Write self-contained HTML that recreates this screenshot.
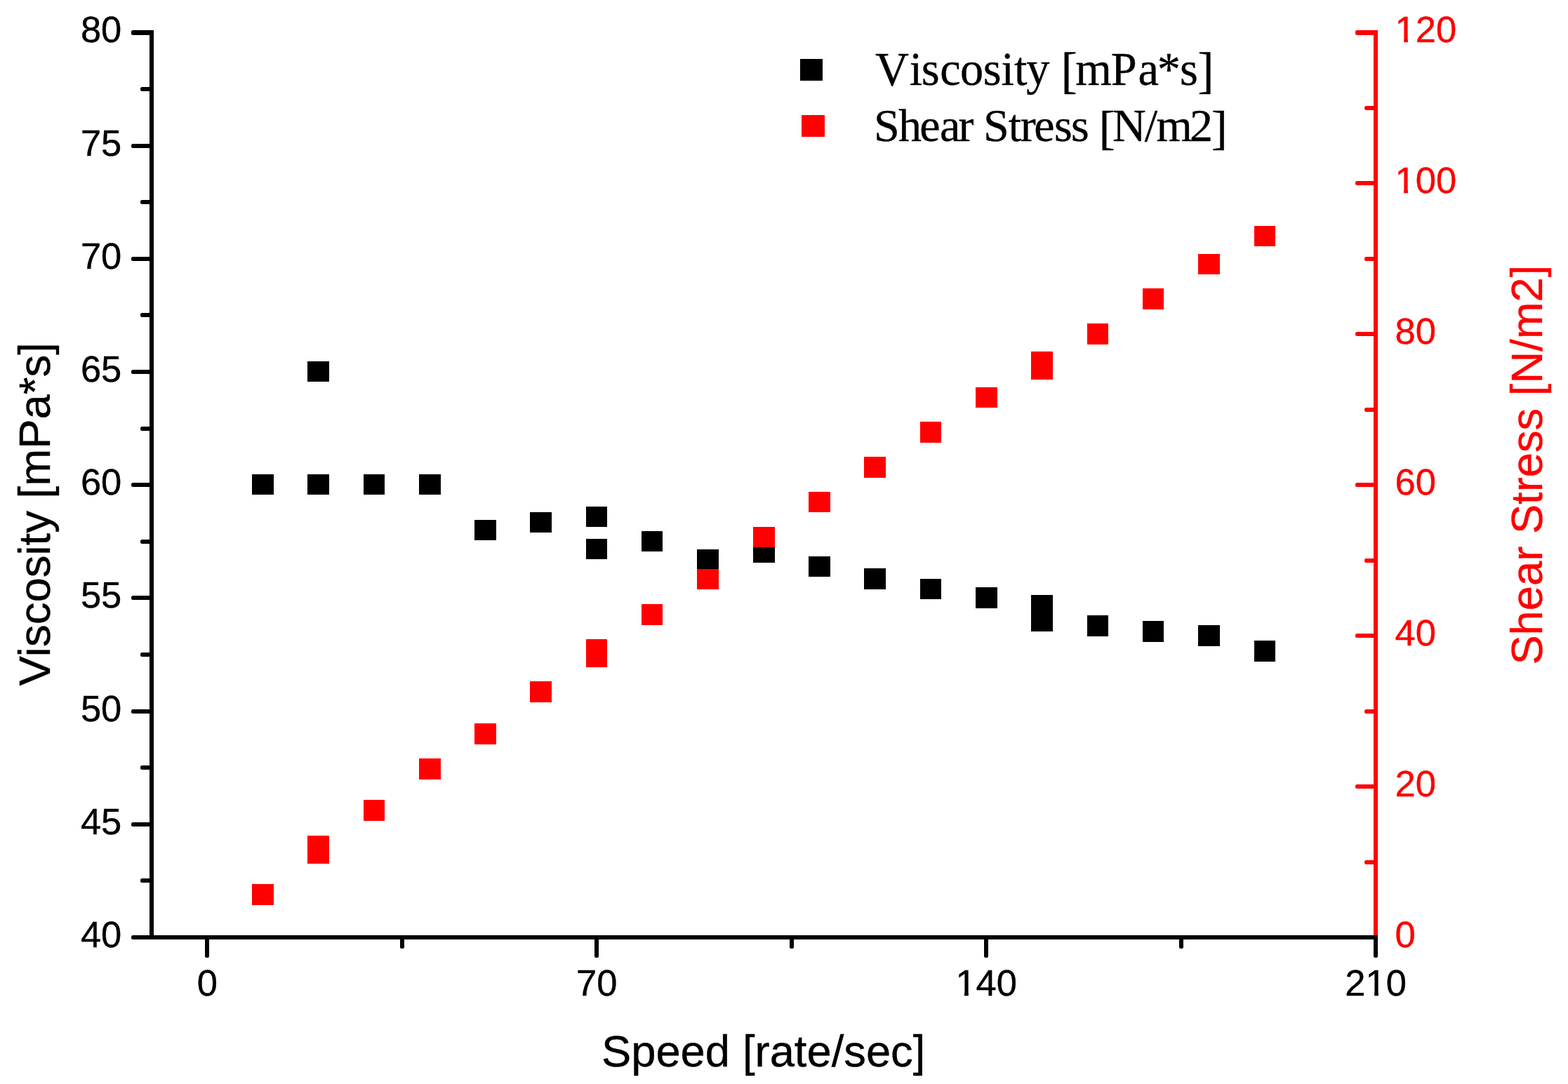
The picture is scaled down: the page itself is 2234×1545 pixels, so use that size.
<!DOCTYPE html><html><head><meta charset="utf-8"><title>Viscosity and Shear Stress vs Speed</title>
<style>html,body{margin:0;padding:0;background:#fff;}body{width:2234px;height:1545px;overflow:hidden;}svg{display:block;}.sans{font-family:"Liberation Sans",Arial,sans-serif;}.serif{font-family:"Liberation Serif","Times New Roman",serif;}</style></head><body>
<svg width="2234" height="1545" viewBox="0 0 2234 1545">
<rect x="0" y="0" width="2234" height="1545" fill="#fff"/>
<g fill="#000" shape-rendering="crispEdges">
<rect x="359" y="676" width="31" height="29"/>
<rect x="438" y="676" width="31" height="29"/>
<rect x="438" y="515" width="31" height="29"/>
<rect x="518" y="676" width="30" height="29"/>
<rect x="597" y="676" width="31" height="29"/>
<rect x="676" y="741" width="31" height="29"/>
<rect x="755" y="730" width="31" height="29"/>
<rect x="835" y="722" width="30" height="29"/>
<rect x="835" y="768" width="30" height="29"/>
<rect x="914" y="757" width="30" height="29"/>
<rect x="993" y="783" width="31" height="29"/>
<rect x="1073" y="773" width="31" height="29"/>
<rect x="1152" y="793" width="31" height="29"/>
<rect x="1231" y="810" width="31" height="30"/>
<rect x="1311" y="825" width="30" height="29"/>
<rect x="1390" y="837" width="31" height="30"/>
<rect x="1469" y="848" width="31" height="29"/>
<rect x="1469" y="871" width="31" height="29"/>
<rect x="1549" y="877" width="30" height="30"/>
<rect x="1628" y="885" width="30" height="30"/>
<rect x="1707" y="891" width="31" height="30"/>
<rect x="1787" y="913" width="30" height="30"/>
</g>
<g fill="#f00" shape-rendering="crispEdges">
<rect x="359" y="1260" width="31" height="30"/>
<rect x="438" y="1191" width="31" height="29"/>
<rect x="438" y="1201" width="31" height="30"/>
<rect x="518" y="1140" width="30" height="30"/>
<rect x="597" y="1081" width="31" height="30"/>
<rect x="676" y="1031" width="31" height="30"/>
<rect x="755" y="971" width="31" height="30"/>
<rect x="835" y="911" width="30" height="29"/>
<rect x="835" y="922" width="30" height="29"/>
<rect x="914" y="861" width="30" height="30"/>
<rect x="993" y="811" width="31" height="29"/>
<rect x="1073" y="751" width="31" height="29"/>
<rect x="1152" y="701" width="31" height="29"/>
<rect x="1231" y="651" width="31" height="30"/>
<rect x="1311" y="601" width="30" height="30"/>
<rect x="1390" y="552" width="31" height="29"/>
<rect x="1469" y="501" width="31" height="29"/>
<rect x="1469" y="512" width="31" height="29"/>
<rect x="1549" y="461" width="30" height="30"/>
<rect x="1628" y="411" width="30" height="30"/>
<rect x="1707" y="362" width="31" height="29"/>
<rect x="1787" y="322" width="30" height="29"/>
</g>
<g shape-rendering="crispEdges">
<rect x="1957" y="43" width="6" height="1290" fill="#f00"/>
<rect x="1944" y="1226" width="16" height="6" rx="2.5" fill="#f00" shape-rendering="auto"/>
<rect x="1931" y="1118" width="29" height="6" rx="2.5" fill="#f00" shape-rendering="auto"/>
<rect x="1944" y="1011" width="16" height="6" rx="2.5" fill="#f00" shape-rendering="auto"/>
<rect x="1931" y="903" width="29" height="6" rx="2.5" fill="#f00" shape-rendering="auto"/>
<rect x="1944" y="796" width="16" height="6" rx="2.5" fill="#f00" shape-rendering="auto"/>
<rect x="1931" y="688" width="29" height="6" rx="2.5" fill="#f00" shape-rendering="auto"/>
<rect x="1944" y="581" width="16" height="6" rx="2.5" fill="#f00" shape-rendering="auto"/>
<rect x="1931" y="473" width="29" height="6" rx="2.5" fill="#f00" shape-rendering="auto"/>
<rect x="1944" y="366" width="16" height="6" rx="2.5" fill="#f00" shape-rendering="auto"/>
<rect x="1931" y="258" width="29" height="6" rx="2.5" fill="#f00" shape-rendering="auto"/>
<rect x="1944" y="151" width="16" height="6" rx="2.5" fill="#f00" shape-rendering="auto"/>
<rect x="1931" y="43" width="29" height="7" rx="2.5" fill="#f00" shape-rendering="auto"/>
<rect x="213" y="43" width="6" height="1296" fill="#000"/>
<rect x="187" y="1333" width="29" height="6" rx="2.5" fill="#000" shape-rendering="auto"/>
<rect x="200" y="1252" width="16" height="6" rx="2.5" fill="#000" shape-rendering="auto"/>
<rect x="187" y="1172" width="29" height="6" rx="2.5" fill="#000" shape-rendering="auto"/>
<rect x="200" y="1091" width="16" height="6" rx="2.5" fill="#000" shape-rendering="auto"/>
<rect x="187" y="1011" width="29" height="6" rx="2.5" fill="#000" shape-rendering="auto"/>
<rect x="200" y="930" width="16" height="6" rx="2.5" fill="#000" shape-rendering="auto"/>
<rect x="187" y="849" width="29" height="6" rx="2.5" fill="#000" shape-rendering="auto"/>
<rect x="200" y="769" width="16" height="6" rx="2.5" fill="#000" shape-rendering="auto"/>
<rect x="187" y="688" width="29" height="6" rx="2.5" fill="#000" shape-rendering="auto"/>
<rect x="200" y="608" width="16" height="6" rx="2.5" fill="#000" shape-rendering="auto"/>
<rect x="187" y="527" width="29" height="6" rx="2.5" fill="#000" shape-rendering="auto"/>
<rect x="200" y="446" width="16" height="6" rx="2.5" fill="#000" shape-rendering="auto"/>
<rect x="187" y="366" width="29" height="6" rx="2.5" fill="#000" shape-rendering="auto"/>
<rect x="200" y="285" width="16" height="6" rx="2.5" fill="#000" shape-rendering="auto"/>
<rect x="187" y="205" width="29" height="6" rx="2.5" fill="#000" shape-rendering="auto"/>
<rect x="200" y="124" width="16" height="6" rx="2.5" fill="#000" shape-rendering="auto"/>
<rect x="187" y="43" width="29" height="7" rx="2.5" fill="#000" shape-rendering="auto"/>
<rect x="213" y="1333" width="1750" height="6" fill="#000"/>
<rect x="292" y="1336" width="6" height="29" rx="2.5" fill="#000" shape-rendering="auto"/>
<rect x="570" y="1336" width="6" height="16" rx="2.5" fill="#000" shape-rendering="auto"/>
<rect x="847" y="1336" width="6" height="29" rx="2.5" fill="#000" shape-rendering="auto"/>
<rect x="1125" y="1336" width="6" height="16" rx="2.5" fill="#000" shape-rendering="auto"/>
<rect x="1402" y="1336" width="6" height="29" rx="2.5" fill="#000" shape-rendering="auto"/>
<rect x="1680" y="1336" width="6" height="16" rx="2.5" fill="#000" shape-rendering="auto"/>
<rect x="1957" y="1336" width="6" height="29" rx="2.5" fill="#000" shape-rendering="auto"/>
</g>
<g class="sans" font-size="52.5" fill="#000" stroke="#000" stroke-width="0.4">
<text x="173.3" y="1349.9" text-anchor="end">40</text>
<text x="173.3" y="1188.7" text-anchor="end">45</text>
<text x="173.3" y="1027.5" text-anchor="end">50</text>
<text x="173.3" y="866.3" text-anchor="end">55</text>
<text x="173.3" y="705.1" text-anchor="end">60</text>
<text x="173.3" y="544.0" text-anchor="end">65</text>
<text x="173.3" y="382.8" text-anchor="end">70</text>
<text x="173.3" y="221.6" text-anchor="end">75</text>
<text x="173.3" y="60.4" text-anchor="end">80</text>
<text x="295.4" y="1418.9" text-anchor="middle">0</text>
<text x="850.3" y="1418.9" text-anchor="middle">70</text>
<text x="1405.2" y="1418.9" text-anchor="middle">140</text>
<text x="1960.1" y="1418.9" text-anchor="middle">210</text>
</g>
<g class="sans" font-size="52.5" fill="#f00" stroke="#f00" stroke-width="0.4">
<text x="1987.5" y="1349.9">0</text>
<text x="1987.5" y="1135.0">20</text>
<text x="1987.5" y="920.1">40</text>
<text x="1987.5" y="705.1">60</text>
<text x="1987.5" y="490.2">80</text>
<text x="1987.5" y="275.3">100</text>
<text x="1987.5" y="60.4">120</text>
</g>
<g fill="#fff">
<rect x="1364.20" y="1414.16" width="9.79" height="6.54"/>
<rect x="1379.81" y="1414.16" width="9.38" height="6.54"/>
<rect x="1948.29" y="1414.16" width="9.79" height="6.54"/>
<rect x="1963.90" y="1414.16" width="9.38" height="6.54"/>
<rect x="1990.32" y="270.57" width="9.79" height="6.54"/>
<rect x="2005.93" y="270.57" width="9.38" height="6.54"/>
<rect x="1990.32" y="55.66" width="9.79" height="6.54"/>
<rect x="2005.93" y="55.66" width="9.38" height="6.54"/>
</g>
<g class="sans" stroke-width="0.4">
<text font-size="63.3" x="857" y="1520.2" fill="#000" stroke="#000">Speed</text>
<text font-size="63.3" x="1058" y="1520.2" fill="#000" stroke="#000">[rate/sec]</text>
<text font-size="63.5" fill="#000" stroke="#000" transform="translate(70.8,977.4) rotate(-90)">Viscosity [mPa*s]</text>
<text font-size="63.3" fill="#f00" stroke="#f00" transform="translate(2197,947.6) rotate(-90)">Shear Stress [N/m2]</text>
</g>
<rect x="1140" y="84" width="32" height="31" fill="#000" shape-rendering="crispEdges"/>
<rect x="1142" y="164" width="33" height="31" fill="#f00" shape-rendering="crispEdges"/>
<text class="serif" font-size="68.5" fill="#000" stroke="#000" stroke-width="0.35" transform="scale(0.970,1)"><tspan x="1285.52 1335.73 1353.46 1380.78 1410.25 1444.13 1470.73 1489.83 1507.59 1519.59" y="121.20">Viscosity </tspan><tspan x="1558.42" y="124.10" font-size="71">[</tspan><tspan x="1579.57 1631.80 1671.64 1699.80 1732.90" y="121.20">mPa&#42;s</tspan><tspan x="1759.17" y="124.10" font-size="71">]</tspan></text>
<text class="serif" font-size="66" fill="#000" stroke="#000" stroke-width="0.35" transform="scale(1.000,1)"><tspan x="1245.04 1280.11 1310.21 1339.09 1365.59 1377.59 1400.99 1436.65 1453.69 1473.21 1501.95 1526.00 1538.00" y="200.90">Shear Stress </tspan><tspan x="1565.74" y="204.50" font-size="68.5">[</tspan><tspan x="1584.98 1630.83 1647.60 1695.02" y="200.90">N/m2</tspan><tspan x="1726.05" y="204.50" font-size="68.5">]</tspan></text>
</svg></body></html>
